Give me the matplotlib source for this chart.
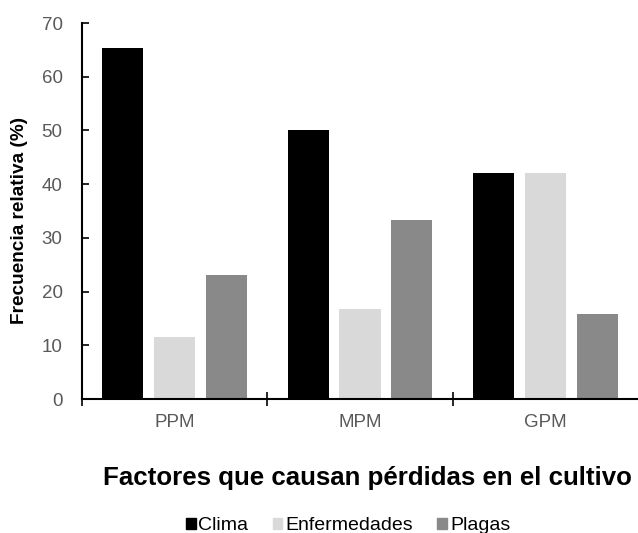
import matplotlib
matplotlib.use("Agg")
import matplotlib.pyplot as plt
import numpy as np
from matplotlib.patches import Patch

categories = ["PPM", "MPM", "GPM"]
series_names = ["Clima", "Enfermedades", "Plagas"]
clima = [65.4, 50.0, 42.1]
enfermedades = [11.5, 16.7, 42.1]
plagas = [23.1, 33.3, 15.8]
colors = ["#000000", "#d9d9d9", "#898989"]
yticks = [0, 10, 20, 30, 40, 50, 60, 70]

plt.rcParams['font.family'] = ['Liberation Sans', 'DejaVu Sans']

fig = plt.figure(figsize=(6.38, 5.33), dpi=100)
ax = fig.add_axes([82/638, 1 - 399/533, (638 - 82)/638, (399 - 23)/533])

x = np.arange(len(categories))
w = 0.222
step = 0.28
for i, (vals, c) in enumerate(zip([clima, enfermedades, plagas], colors)):
    ax.bar(x + (i - 1) * step, vals, width=w, color=c, label=series_names[i])

ax.set_xlim(-0.5, 2.5)
ax.set_ylim(0, 70)
ax.set_yticks(yticks)
ax.tick_params(axis='y', labelsize=13.5, labelcolor='#595959', length=5, width=1.2,
               direction='in', pad=14)
ax.set_xticks([-0.5, 0.5, 1.5], minor=False)
ax.set_xticklabels([])
ax.tick_params(axis='x', length=10, width=1.2, direction='inout')
ax.set_xticks(x, minor=True)
ax.set_xticklabels(categories, minor=True)
ax.tick_params(axis='x', which='minor', length=0, labelsize=13.5, labelcolor='#595959', pad=11)

for s in ['top', 'right']:
    ax.spines[s].set_visible(False)
for s in ['left', 'bottom']:
    ax.spines[s].set_linewidth(1.5)

ax.set_ylabel("Frecuencia relativa (%)", fontsize=13.7, fontweight='bold')
ax.yaxis.label.set_va('center')
ax.yaxis.set_label_coords(20/638, (1 - 220/533), transform=fig.transFigure)

fig.text(367/638, 1 - 485/533, "Factores que causan pérdidas en el cultivo",
         ha='center', va='baseline', fontsize=18.6, fontweight='bold')

handles = [Patch(color=c) for c in colors]
fig.legend(handles, series_names, loc='center', bbox_to_anchor=(348/638, 1 - 526/533),
           ncol=3, frameon=False, fontsize=14, handlelength=0.5, handleheight=0.5,
           handletextpad=0.15, columnspacing=1.25)

fig.savefig("out.png", dpi=100)
